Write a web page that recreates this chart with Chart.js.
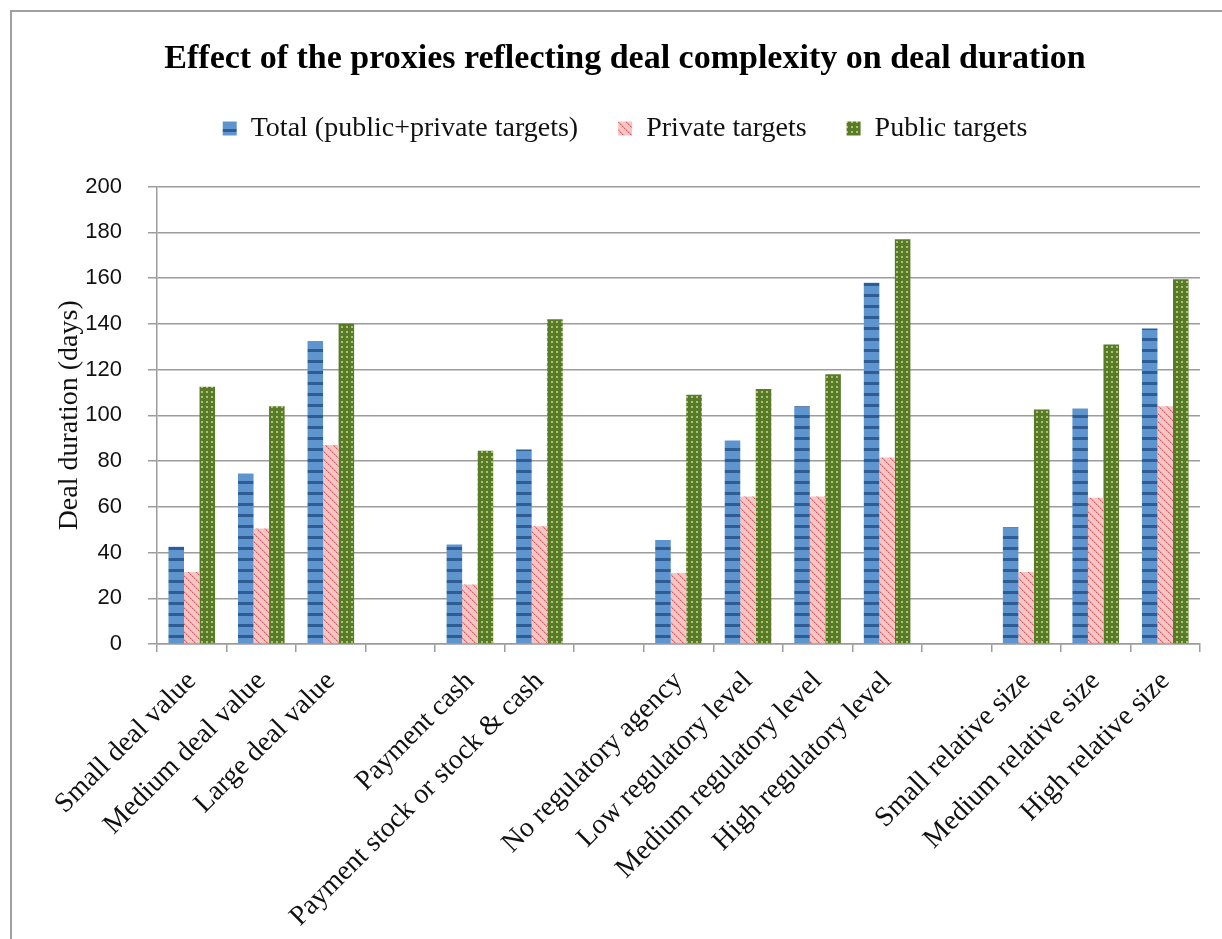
<!DOCTYPE html>
<html>
<head>
<meta charset="utf-8">
<title>Deal complexity and deal duration</title>
<script src="https://cdn.jsdelivr.net/npm/chart.js@4.4.1/dist/chart.umd.min.js"></script>
<style>
  html, body { margin: 0; padding: 0; background: #fff; overflow: hidden; }
  .frame { position: absolute; left: 10px; top: 10px; width: 1300px; height: 1000px;
           border-top: 2px solid #a0a0a0; border-left: 2px solid #a0a0a0; }
  #chart { position: absolute; left: 0; top: 0; }
</style>
</head>
<body>
<div class="frame"></div>
<canvas id="chart" width="1250" height="939"></canvas>
<script>
// categories (empty strings are the gaps between groups)
const categories = [
  "Small deal value", "Medium deal value", "Large deal value", "",
  "Payment cash", "Payment stock or stock & cash", "",
  "No regulatory agency", "Low regulatory level", "Medium regulatory level", "High regulatory level", "",
  "Small relative size", "Medium relative size", "High relative size"
];
const totalTargets   = [42.5, 74.5, 132.5, null, 43.5, 85, null, 45.5, 89, 104, 158, null, 51, 103, 138];
const privateTargets = [31.5, 50.5, 87, null, 26, 51.5, null, 31, 64.5, 64.5, 81.5, null, 31.5, 64, 104];
const publicTargets  = [112.5, 104, 140, null, 84.5, 142, null, 109, 111.5, 118, 177, null, 102.5, 131, 159.5];
const yMin = 0, yMax = 200, yStep = 20;

const serif = "'Liberation Serif', 'DejaVu Serif', serif";
const sans = "'Liberation Sans', Arial, sans-serif";

function pattern(w, h, draw) {
  const c = document.createElement("canvas");
  c.width = w; c.height = h;
  const g = c.getContext("2d");
  draw(g);
  return g.createPattern(c, "repeat");
}

// horizontal dark stripes on blue
const bluePattern = pattern(4, 11, (g) => {
  g.fillStyle = "#5e95ce"; g.fillRect(0, 0, 4, 11);
  g.fillStyle = "#2d5d92"; g.fillRect(0, 8, 4, 3);
});
// red dotted diagonals on pink
const pinkPattern = pattern(8, 8, (g) => {
  g.fillStyle = "#f2c6c6"; g.fillRect(0, 0, 8, 8);
  for (let i = 0; i < 8; i++) {
    g.fillStyle = i % 2 ? "#e88a8a" : "#d95c5c";
    g.fillRect(i, i, 1, 1);
    g.fillStyle = "#eba5a5";
    g.fillRect((i + 1) % 8, i, 1, 1);
  }
});
// light green dots on olive
const greenPattern = pattern(5, 5, (g) => {
  g.fillStyle = "#587a29"; g.fillRect(0, 0, 5, 5);
  g.fillStyle = "#a8c76a"; g.fillRect(1, 1, 2, 2);
});

// extra room between the legend and the plot
const legendSpacer = {
  id: "legendSpacer",
  beforeInit(chart) {
    const fit = chart.legend.fit;
    chart.legend.fit = function () {
      fit.bind(chart.legend)();
      this.height += 34;
    };
  }
};

const gridGray = "#9c9c9c";

new Chart(document.getElementById("chart"), {
  type: "bar",
  data: {
    labels: categories,
    datasets: [
      { label: "Total (public+private targets)", data: totalTargets, backgroundColor: bluePattern, borderWidth: 0 },
      { label: "Private targets", data: privateTargets, backgroundColor: pinkPattern, borderWidth: 0 },
      { label: "Public targets", data: publicTargets, backgroundColor: greenPattern, borderWidth: 0 }
    ]
  },
  options: {
    responsive: false,
    animation: false,
    datasets: { bar: { barPercentage: 1, categoryPercentage: 0.67 } },
    layout: { padding: { top: 0, left: 50, right: 50, bottom: 0 } },
    plugins: {
      title: {
        display: true,
        text: "Effect of the proxies reflecting deal complexity on deal duration",
        color: "#000",
        font: { family: serif, size: 34, weight: "bold", lineHeight: 0.9 },
        padding: { top: 44, bottom: 0 }
      },
      legend: {
        display: true,
        position: "top",
        labels: {
          color: "#111",
          font: { family: serif, size: 28 },
          boxWidth: 14,
          boxHeight: 14,
          padding: 40
        }
      },
      tooltip: { enabled: false }
    },
    scales: {
      x: {
        grid: { drawOnChartArea: false, drawTicks: true, tickLength: 8, color: gridGray, lineWidth: 1.5 },
        border: { display: true, color: gridGray, width: 1.5 },
        ticks: {
          color: "#111",
          font: { family: serif, size: 28 },
          autoSkip: false,
          minRotation: 45,
          maxRotation: 45,
          padding: 13
        },
        afterFit(scale) { scale.height = 295; }
      },
      y: {
        min: yMin,
        max: yMax,
        ticks: { stepSize: yStep, color: "#111", font: { family: sans, size: 22 }, padding: 26 },
        grid: { color: gridGray, lineWidth: 1.5, tickLength: 9 },
        border: { display: true, color: gridGray, width: 1.5 },
        title: {
          display: true,
          text: "Deal duration (days)",
          color: "#111",
          font: { family: serif, size: 28 },
          padding: { top: 3, bottom: 0 }
        },
        afterFit(scale) { scale.width = 107; }
      }
    }
  },
  plugins: [legendSpacer]
});
</script>
</body>
</html>
